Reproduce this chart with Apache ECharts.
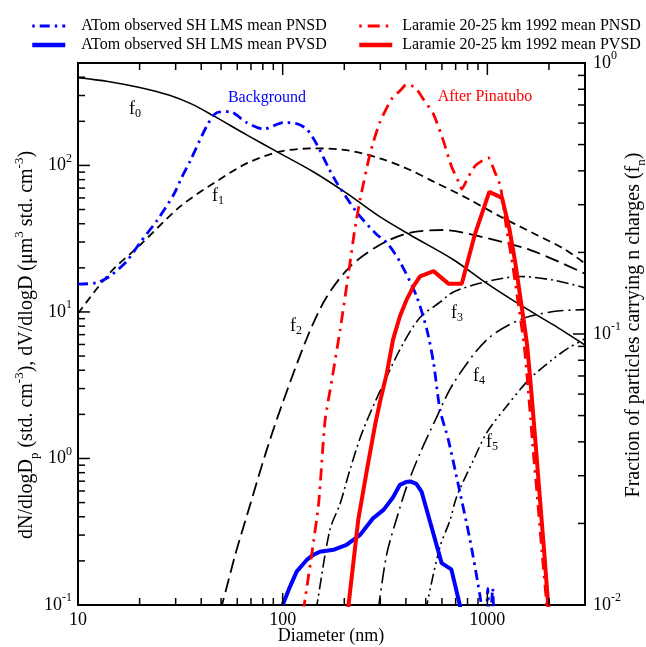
<!DOCTYPE html>
<html>
<head>
<meta charset="utf-8">
<script src="https://cdn.jsdelivr.net/npm/echarts@6/dist/echarts.min.js"></script>
<style>
html,body{margin:0;padding:0;background:#fff;}
#chart{width:646px;height:647px;}
</style>
</head>
<body>
<div id="chart"></div>
<script>
// ---------------- data ----------------
// Diameter (nm) / value pairs
const atomPNSD = [[10,15.5],[12.3,15.8],[14.3,17.5],[17.3,22.2],[20.1,29.7],[24.2,41.7],[29.3,63],[32,82],[35.3,107],[42.6,186],[47.6,229],[55,233],[66.7,196],[80.7,177],[101,196],[117,193],[131,177],[147,139],[167,97],[184,76],[231,47.5],[288,33.8],[323,29.7],[374,22],[451,12.8],[506,7.6],[546,4.5],[587,2.15],[645,1.34],[725,0.64],[823,0.278],[922,0.114],[950,0.08],[975,0.05],[1005,0.13],[1025,0.06],[1062,0.13],[1080,0.05]];
const atomPVSD = [[100,0.1],[108.5,0.133],[117,0.169],[131,0.203],[141,0.22],[152,0.231],[177,0.238],[205,0.257],[239,0.301],[277,0.392],[311,0.446],[345,0.54],[374,0.661],[400,0.69],[420,0.697],[450,0.67],[477,0.595],[598,0.193],[667,0.175],[734,0.1],[740,0.09]];
const laramiePNSD = [[126,0.09],[131,0.13],[139,0.227],[150,0.498],[161,1.8],[174,3.45],[191,7.6],[210,18.5],[225,36.5],[239,58.6],[268,122],[298,196],[340,283],[374,323],[404,358],[444,340],[487,283],[546,223],[610,147],[667,99],[734,74],[750,69],[805,83],[870,99],[937,107],[1009,113],[1092,89],[1159,72],[1239,37.6],[1324,21.7],[1399,12.8],[1511,6],[1567,3.5],[1625,1.9],[1673,1.15],[1760,0.52],[1845,0.238],[1950,0.1],[1965,0.08]];
const laramiePVSD = [[208,0.09],[234,0.381],[258,0.837],[283,1.7],[298,2.39],[323,3.84],[346,6.47],[374,9.35],[404,12.2],[436,15],[469,17.5],[546,19],[645,15.6],[750,15.6],[870,34],[1022,66],[1180,60],[1281,37],[1369,21.7],[1447,12.8],[1510,8.5],[1563,6],[1620,3.5],[1680,1.9],[1730,1.15],[1809,0.52],[1892,0.238],[1983,0.1],[1995,0.09]];

// Fraction of particles carrying n charges
const f0 = [[10,0.883],[14,0.855],[20,0.812],[28,0.76],[36,0.705],[46,0.638],[67,0.542],[97,0.464],[141,0.397],[205,0.331],[298,0.271],[420,0.232],[683,0.188],[990,0.154],[1447,0.128],[2103,0.108],[3000,0.091]];
const f1 = [[10,0.119],[14.3,0.168],[20.1,0.213],[31.5,0.295],[46,0.36],[67,0.427],[97,0.471],[141,0.484],[205,0.477],[298,0.445],[420,0.403],[546,0.365],[796,0.317],[1159,0.271],[1686,0.235],[2400,0.205],[3000,0.182]];
const f2 = [[49,0.0095],[50.5,0.01],[58.6,0.0153],[69.3,0.0234],[82.1,0.0358],[97.2,0.0525],[132,0.0975],[164,0.137],[213,0.177],[288,0.21],[404,0.235],[610,0.242],[918,0.229],[1624,0.204],[3000,0.167]];
const f3 = [[145,0.0095],[147,0.01],[170,0.0189],[191,0.0237],[213,0.0315],[247,0.0442],[322,0.0695],[389,0.0925],[469,0.115],[587,0.131],[683,0.143],[990,0.156],[1447,0.163],[2103,0.158],[3000,0.148]];
const f4 = [[292,0.0095],[295,0.01],[323,0.0155],[363,0.0212],[404,0.0274],[469,0.0363],[556,0.048],[683,0.0658],[990,0.095],[1447,0.113],[2103,0.121],[3000,0.123]];
const f5 = [[502,0.0095],[506,0.01],[587,0.0164],[658,0.0206],[708,0.0251],[856,0.0343],[990,0.0431],[1240,0.054],[1600,0.068],[2103,0.081],[2500,0.089],[3000,0.096]];

// tick values
const xMajorTicks = [10, 100, 1000];
const xMinorTicks = [20,30,40,50,60,70,80,90,200,300,400,500,600,700,800,900,2000];
const yLeftMajorTicks = [0.1, 1, 10, 100];
const yLeftMinorTicks = [0.2,0.3,0.4,0.5,0.6,0.7,0.8,0.9,2,3,4,5,6,7,8,9,20,30,40,50,60,70,80,90,200,300,400];
const yRightMajorTicks = [0.01, 0.1, 1];
const yRightMinorTicks = [0.02,0.03,0.04,0.05,0.06,0.07,0.08,0.09,0.2,0.3,0.4,0.5,0.6,0.7,0.8,0.9];

const seriesNames = ['ATom observed SH LMS mean PNSD','ATom observed SH LMS mean PVSD','Laramie 20-25 km 1992 mean PNSD','Laramie 20-25 km 1992 mean PVSD'];

// ---------------- chart ----------------
const FONT = "'Liberation Serif','Times New Roman',serif";
const chart = echarts.init(document.getElementById('chart'), null, {renderer:'canvas'});

function isPow10(v){ const e = Math.log10(v); return Math.abs(e - Math.round(e)) < 1e-6; }
function supLabel(v){ if(!isPow10(v)) return ''; return '{b|10}{s|' + Math.round(Math.log10(v)) + '}'; }
const supRich = {
  b:{fontSize:18, fontFamily:FONT, color:'#000', lineHeight:26},
  s:{fontSize:12, fontFamily:FONT, color:'#000', lineHeight:10, verticalAlign:'top'}
};

function tickLine(x1,y1,x2,y2){ return {type:'line', shape:{x1,y1,x2,y2}, style:{stroke:'#000', lineWidth:1.5}}; }

const xTickData = xMajorTicks.map(v=>[v,1,1]).concat(xMinorTicks.map(v=>[v,1,0]));
const yLTickData = yLeftMajorTicks.map(v=>[10,v,1]).concat(yLeftMinorTicks.map(v=>[10,v,0]));
const yRTickData = yRightMajorTicks.map(v=>[10,v,1]).concat(yRightMinorTicks.map(v=>[10,v,0]));

function fLabel(n){ return '{f|f}{s|' + n + '}'; }
const fRich = {
  f:{fontSize:18, fontFamily:FONT, color:'#000', lineHeight:22},
  s:{fontSize:12, fontFamily:FONT, color:'#000', lineHeight:10, verticalAlign:'bottom'}
};

function line(name, data, yIdx, color, width, type, smooth){
  return {name, type:'line', data, xAxisIndex:0, yAxisIndex:yIdx, symbol:'none', showSymbol:false,
    smooth: smooth, clip:true, silent:true,
    lineStyle:{color, width, type, cap:'butt'}, itemStyle:{color}};
}

const legendText = {fontFamily:FONT, fontSize:16, color:'#000'};

const option = {
  animation:false,
  backgroundColor:'#fff',
  grid:{left:78, right:61, top:63, bottom:42, show:true, borderColor:'#000', borderWidth:2, backgroundColor:'transparent', containLabel:false, outerBoundsMode:'none'},
  legend:[
    {data:[
        {name:seriesNames[0], lineStyle:{width:3, dashOffset:15}},
        {name:seriesNames[1], lineStyle:{width:4.5}}],
     left:25, top:13, orient:'vertical', itemWidth:33, itemHeight:14, itemGap:3, selectedMode:false,
     itemStyle:{opacity:0},
     textStyle:Object.assign({padding:[0,0,0,11]}, legendText)},
    {data:[
        {name:seriesNames[2], lineStyle:{width:3, dashOffset:18}},
        {name:seriesNames[3], lineStyle:{width:4.5}}],
     left:352, top:13, orient:'vertical', itemWidth:33, itemHeight:14, itemGap:3, selectedMode:false,
     itemStyle:{opacity:0},
     textStyle:Object.assign({padding:[0,0,0,5]}, legendText)}
  ],
  xAxis:[{type:'log', logBase:10, min:10, max:3000, position:'bottom',
    axisLine:{show:false}, axisTick:{show:false}, splitLine:{show:false},
    axisLabel:{fontFamily:FONT, fontSize:18, color:'#000', margin:6,
      formatter:v=> isPow10(v) ? String(Math.round(v)) : ''}}],
  yAxis:[
    {type:'log', logBase:10, min:0.1, max:500, position:'left',
      axisLine:{show:false}, axisTick:{show:false}, splitLine:{show:false},
      axisLabel:{margin:6, formatter:supLabel, rich:supRich}},
    {type:'log', logBase:10, min:0.01, max:1, position:'right',
      axisLine:{show:false}, axisTick:{show:false}, splitLine:{show:false},
      axisLabel:{margin:8, formatter:supLabel, rich:supRich}}
  ],
  graphic:[
    {type:'text', x:27, y:345, rotation:Math.PI/2, style:{
      text:'{a|dN/dlogD}{b|p}{a| (std. cm}{c|-3}{a|), dV/dlogD (μm}{c|3}{a| std. cm}{c|-3}{a|)}',
      align:'center', verticalAlign:'middle',
      rich:{a:{fontSize:20, fontFamily:FONT, color:'#000', lineHeight:28},
            b:{fontSize:13, fontFamily:FONT, color:'#000', lineHeight:16, verticalAlign:'bottom'},
            c:{fontSize:13, fontFamily:FONT, color:'#000', lineHeight:12, verticalAlign:'top'}}}},
    {type:'text', x:634, y:325, rotation:Math.PI/2, style:{
      text:'{a|Fraction of particles carrying n charges (f}{b|n}{a|)}',
      align:'center', verticalAlign:'middle',
      rich:{a:{fontSize:20, fontFamily:FONT, color:'#000', lineHeight:28},
            b:{fontSize:13, fontFamily:FONT, color:'#000', lineHeight:16, verticalAlign:'bottom'}}}},
    {type:'text', x:331, y:636, style:{text:'Diameter (nm)', fontFamily:FONT, fontSize:18, fill:'#000', align:'center', verticalAlign:'middle'}},
    {type:'text', x:267, y:98, style:{text:'Background', fontFamily:FONT, fontSize:16, fill:'#0000ff', align:'center', verticalAlign:'middle'}},
    {type:'text', x:485, y:97, style:{text:'After Pinatubo', fontFamily:FONT, fontSize:16, fill:'#ff0000', align:'center', verticalAlign:'middle'}},
    {type:'text', x:135, y:109, style:{text:fLabel(0), rich:fRich, align:'center', verticalAlign:'middle'}},
    {type:'text', x:218, y:196, style:{text:fLabel(1), rich:fRich, align:'center', verticalAlign:'middle'}},
    {type:'text', x:296, y:326, style:{text:fLabel(2), rich:fRich, align:'center', verticalAlign:'middle'}},
    {type:'text', x:457, y:313, style:{text:fLabel(3), rich:fRich, align:'center', verticalAlign:'middle'}},
    {type:'text', x:479, y:376, style:{text:fLabel(4), rich:fRich, align:'center', verticalAlign:'middle'}},
    {type:'text', x:492, y:442, style:{text:fLabel(5), rich:fRich, align:'center', verticalAlign:'middle'}}
  ],
  series:[
    line('f0', f0, 1, '#000', 1.6, 'solid', 0.3),
    line('f1', f1, 1, '#000', 1.8, [8,5], 0.3),
    line('f2', f2, 1, '#000', 1.8, [14,6], 0.3),
    line('f3', f3, 1, '#000', 1.6, [12,4,2,4], 0.3),
    line('f4', f4, 1, '#000', 1.6, [16,5,2,5], 0.3),
    line('f5', f5, 1, '#000', 1.6, [11,4,2,4,2,4], 0.3),
    line(seriesNames[0], atomPNSD, 0, '#0000ff', 2.8, [10,5,2.5,5], 0.25),
    line(seriesNames[1], atomPVSD, 0, '#0000ff', 4, 'solid', false),
    line(seriesNames[2], laramiePNSD, 0, '#ff0000', 2.8, [12,6,2.5,6], 0.2),
    line(seriesNames[3], laramiePVSD, 0, '#ff0000', 4, 'solid', false),
    {type:'custom', name:'xticks', xAxisIndex:0, yAxisIndex:0, silent:true, z:10, data:xTickData, encode:{x:0,y:1},
      renderItem:(params, api)=>{
        const cs = params.coordSys; const len = api.value(2) ? 12 : 7;
        const x = api.coord([api.value(0), 1])[0];
        const b = cs.y + cs.height, t = cs.y;
        return {type:'group', children:[tickLine(x,b,x,b-len), tickLine(x,t,x,t+len)]};
      }},
    {type:'custom', name:'yLticks', xAxisIndex:0, yAxisIndex:0, silent:true, z:10, data:yLTickData, encode:{x:0,y:1},
      renderItem:(params, api)=>{
        const cs = params.coordSys; const len = api.value(2) ? 12 : 7;
        const y = api.coord([10, api.value(1)])[1];
        return tickLine(cs.x, y, cs.x+len, y);
      }},
    {type:'custom', name:'yRticks', xAxisIndex:0, yAxisIndex:1, silent:true, z:10, data:yRTickData, encode:{x:0,y:1},
      renderItem:(params, api)=>{
        const cs = params.coordSys; const len = api.value(2) ? 12 : 7;
        const y = api.coord([10, api.value(1)])[1];
        const r = cs.x + cs.width;
        return tickLine(r, y, r-len, y);
      }}
  ]
};
chart.setOption(option);
</script>
</body>
</html>
